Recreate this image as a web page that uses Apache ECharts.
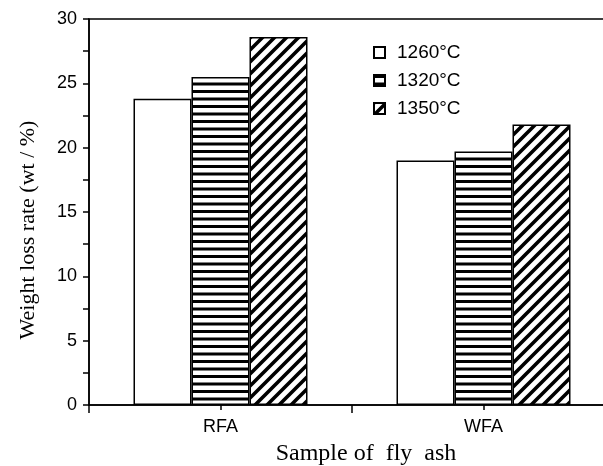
<!DOCTYPE html>
<html>
<head>
<meta charset="utf-8">
<script src="https://cdn.jsdelivr.net/npm/echarts@6/dist/echarts.min.js"></script>
<style>
html,body{margin:0;padding:0;background:#fff;}
#chart{width:603px;height:466px;}
</style>
</head>
<body>
<div id="chart"></div>
<script>
// ---- data ----
var categories = ['RFA', 'WFA'];
var seriesNames = ['1260°C', '1320°C', '1350°C'];
var values1260 = [23.8, 19.0];
var values1320 = [25.5, 19.7];
var values1350 = [28.6, 21.8];
var yTicks = [0, 5, 10, 15, 20, 25, 30];

// ---- patterns ----
function hPattern() {
  var c = document.createElement('canvas');
  c.width = 8; c.height = 15;
  var g = c.getContext('2d');
  g.fillStyle = '#fff'; g.fillRect(0, 0, 8, 15);
  g.fillStyle = '#000';
  g.fillRect(0, 0, 8, 3);
  g.fillRect(0, 7.5, 8, 3);
  return c;
}
function dPattern() {
  var s = 12;
  var c = document.createElement('canvas');
  c.width = s; c.height = s;
  var g = c.getContext('2d');
  g.fillStyle = '#fff'; g.fillRect(0, 0, s, s);
  g.strokeStyle = '#000'; g.lineWidth = 3.6;
  g.beginPath();
  g.moveTo(-2, 2); g.lineTo(2, -2);
  g.moveTo(0, s); g.lineTo(s, 0);
  g.moveTo(s - 2, s + 2); g.lineTo(s + 2, s - 2);
  g.stroke();
  return c;
}

var fills = [
  '#ffffff',
  { image: hPattern(), repeat: 'repeat' },
  { image: dPattern(), repeat: 'repeat' }
];
var allValues = [values1260, values1320, values1350];

var chart = echarts.init(document.getElementById('chart'), null, { renderer: 'canvas' });

var series = seriesNames.map(function (name, i) {
  return {
    name: name,
    type: 'bar',
    xAxisIndex: 0,
    yAxisIndex: 0,
    barWidth: 58,
    barGap: '0%',
    data: allValues[i],
    itemStyle: { color: fills[i], borderColor: '#000', borderWidth: 1.5 },
    emphasis: { disabled: true }
  };
});

chart.setOption({
  backgroundColor: '#fff',
  animation: false,
  grid: {
    left: 89, top: 19, width: 526, height: 386,
    outerBoundsMode: 'none',
    containLabel: false,
    show: true, borderColor: '#000', borderWidth: 1.5, backgroundColor: 'transparent'
  },
  legend: {
    orient: 'vertical',
    left: 373, top: 43,
    padding: 0,
    itemWidth: 11, itemHeight: 11, itemGap: 9,
    icon: 'rect',
    data: seriesNames,
    textStyle: { fontFamily: 'Liberation Sans', fontSize: 19, color: '#000', lineHeight: 18, padding: [0, 0, 0, 7] }
  },
  xAxis: [
    {
      type: 'category',
      data: categories,
      position: 'bottom',
      axisLine: { show: true, lineStyle: { color: '#000', width: 1.5 } },
      axisTick: { show: true, length: 8, lineStyle: { color: '#000', width: 1.5 } },
      axisLabel: { color: '#000', fontFamily: 'Liberation Sans', fontSize: 18, margin: 13 },
      splitLine: { show: false },
      name: 'Sample of  fly  ash',
      nameLocation: 'middle',
      nameGap: 37,
      nameTextStyle: { fontFamily: 'Liberation Serif', fontSize: 24, color: '#000', padding: [0, 0, 0, 28] }
    },
    {
      type: 'category',
      data: categories,
      position: 'bottom',
      axisLine: { show: false },
      axisTick: { show: true, alignWithLabel: true, length: 5, lineStyle: { color: '#000', width: 1.5 } },
      axisLabel: { show: false },
      splitLine: { show: false }
    }
  ],
  yAxis: {
    type: 'value',
    min: yTicks[0],
    max: yTicks[yTicks.length - 1],
    interval: yTicks[1] - yTicks[0],
    axisLine: { show: true, lineStyle: { color: '#000', width: 1.5 } },
    axisTick: { show: true, length: 6, lineStyle: { color: '#000', width: 1.5 } },
    minorTick: { show: true, splitNumber: 2, length: 6, lineStyle: { color: '#000', width: 1.5 } },
    axisLabel: { color: '#000', fontFamily: 'Liberation Sans', fontSize: 18, margin: 12 },
    splitLine: { show: false },
    name: 'Weight loss rate (wt / %)',
    nameLocation: 'middle',
    nameGap: 50,
    nameTextStyle: { fontFamily: 'Liberation Serif', fontSize: 22, color: '#000', padding: [0, 36, 0, 0] }
  },
  series: series
});
</script>
</body>
</html>
